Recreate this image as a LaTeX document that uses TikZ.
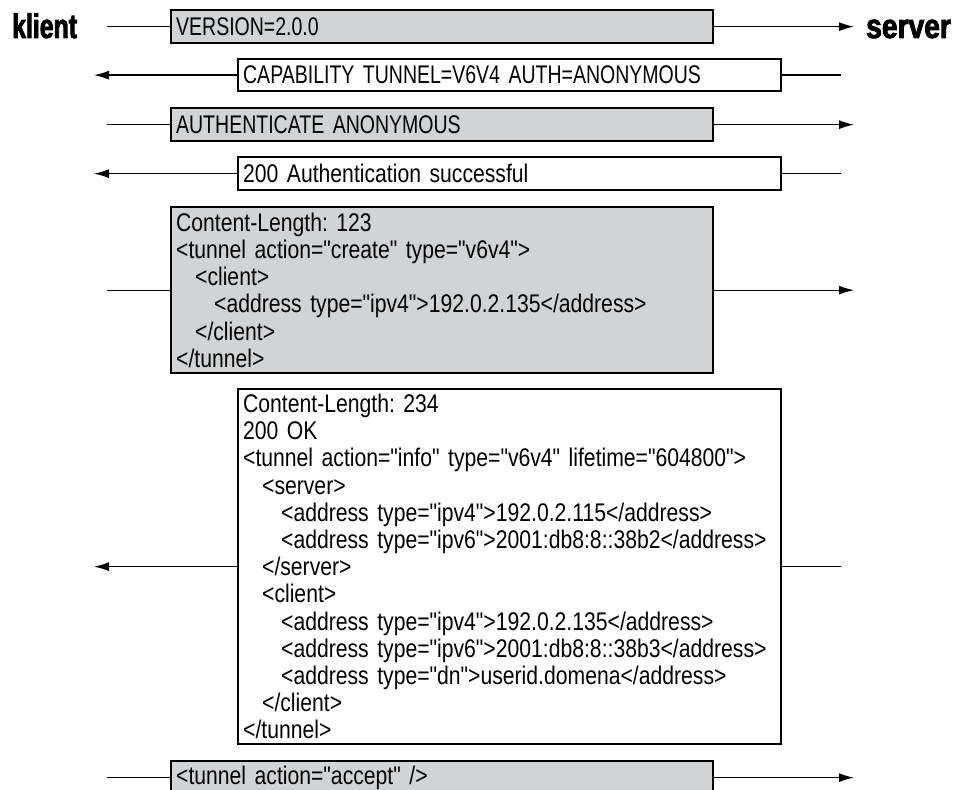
\documentclass[tikz,border=0pt]{standalone}
\usepackage{fontspec}
\setmainfont{Liberation Sans}[FakeStretch=0.83,Ligatures=TeXOff,WordSpace=0.7]
\newfontfamily\capsfont{Liberation Sans}[FakeStretch=0.765,Ligatures=TeXOff,WordSpace=0.7]
\newfontfamily\klientfont{Liberation Sans}[FakeStretch=0.73,BoldFeatures={FakeBold=2.5}]
\newfontfamily\serverfont{Liberation Sans}[FakeStretch=0.83,BoldFeatures={FakeBold=2.5}]
\usetikzlibrary{arrows.meta}
\definecolor{boxgray}{RGB}{210,211,213}
\newcommand{\ind}{\hspace*{19pt}}
\frenchspacing
\begin{document}
\begin{tikzpicture}[x=1pt,y=-1pt,
  msg/.style={draw, line width=2.3pt, anchor=north west, inner xsep=5pt, inner ysep=0pt,
    align=left, font=\fontsize{25.5}{27.2}\selectfont\frenchspacing},
  graymsg/.style={msg, fill=boxgray, text width=532pt},
  whitemsg/.style={msg, fill=white, text width=533pt},
  capsmsg/.style={font=\fontsize{25.5}{27.2}\capsfont\frenchspacing},
  conn/.style={line width=1.3pt},
  arr/.style={conn, -{Latex[length=15pt,width=9pt]}},
  titletext/.style={anchor=base west, inner sep=0pt}]
\useasboundingbox (0,0) rectangle (957,789);
\clip (0,0) rectangle (957,789);

\node[titletext, font=\fontsize{34}{34}\klientfont\bfseries] (klient) at (12,38) {klient};
\node[titletext, font=\fontsize{34}{34}\serverfont\bfseries] (server) at (866,38) {server};

\node[graymsg, capsmsg, minimum height=33pt] (b1) at (170,9) {VERSION=2.0.0};
\node[whitemsg, capsmsg, minimum height=32pt] (b2) at (237,58) {CAPABILITY TUNNEL=V6V4 AUTH=ANONYMOUS};
\node[graymsg, capsmsg, minimum height=33pt] (b3) at (170,107) {AUTHENTICATE ANONYMOUS};
\node[whitemsg, minimum height=33pt] (b4) at (237,156) {200 Authentication successful};
\node[graymsg, minimum height=166pt] (b5) at (170,206) {Content-Length: 123\\
<tunnel action="create" type="v6v4">\\
\ind<client>\\
\ind\ind<address type="ipv4">192.0.2.135</address>\\
\ind</client>\\
</tunnel>};
\node[whitemsg, minimum height=355pt] (b6) at (237,388) {Content-Length: 234\\
200 OK\\
<tunnel action="info" type="v6v4" lifetime="604800">\\
\ind<server>\\
\ind\ind<address type="ipv4">192.0.2.115</address>\\
\ind\ind<address type="ipv6">2001:db8:8::38b2</address>\\
\ind</server>\\
\ind<client>\\
\ind\ind<address type="ipv4">192.0.2.135</address>\\
\ind\ind<address type="ipv6">2001:db8:8::38b3</address>\\
\ind\ind<address type="dn">userid.domena</address>\\
\ind</client>\\
</tunnel>};
\node[graymsg, minimum height=33pt] (b7) at (170,760) {<tunnel action="accept" />};

% free ends
\coordinate (l1) at (107,0 |- b1.west);
\coordinate (r1) at (854,0 |- b1.east);
\coordinate (l2) at (94,0 |- b2.west);
\coordinate (r2) at (841,0 |- b2.east);
\coordinate (l3) at (107,0 |- b3.west);
\coordinate (r3) at (854,0 |- b3.east);
\coordinate (l4) at (94,0 |- b4.west);
\coordinate (r4) at (841,0 |- b4.east);
\coordinate (l5) at (107,0 |- b5.west);
\coordinate (r5) at (854,0 |- b5.east);
\coordinate (l6) at (94,0 |- b6.west);
\coordinate (r6) at (841,0 |- b6.east);
\coordinate (l7) at (107,0 |- b7.west);
\coordinate (r7) at (854,0 |- b7.east);

\draw[conn] (l1) -- (b1.west);
\draw[arr] (b1.east) -- (r1);
\draw[conn] (r2) -- (b2.east);
\draw[arr] (b2.west) -- (l2);
\draw[conn] (l3) -- (b3.west);
\draw[arr] (b3.east) -- (r3);
\draw[conn] (r4) -- (b4.east);
\draw[arr] (b4.west) -- (l4);
\draw[conn] (l5) -- (b5.west);
\draw[arr] (b5.east) -- (r5);
\draw[conn] (r6) -- (b6.east);
\draw[arr] (b6.west) -- (l6);
\draw[conn] (l7) -- (b7.west);
\draw[arr] (b7.east) -- (r7);
\end{tikzpicture}
\end{document}
